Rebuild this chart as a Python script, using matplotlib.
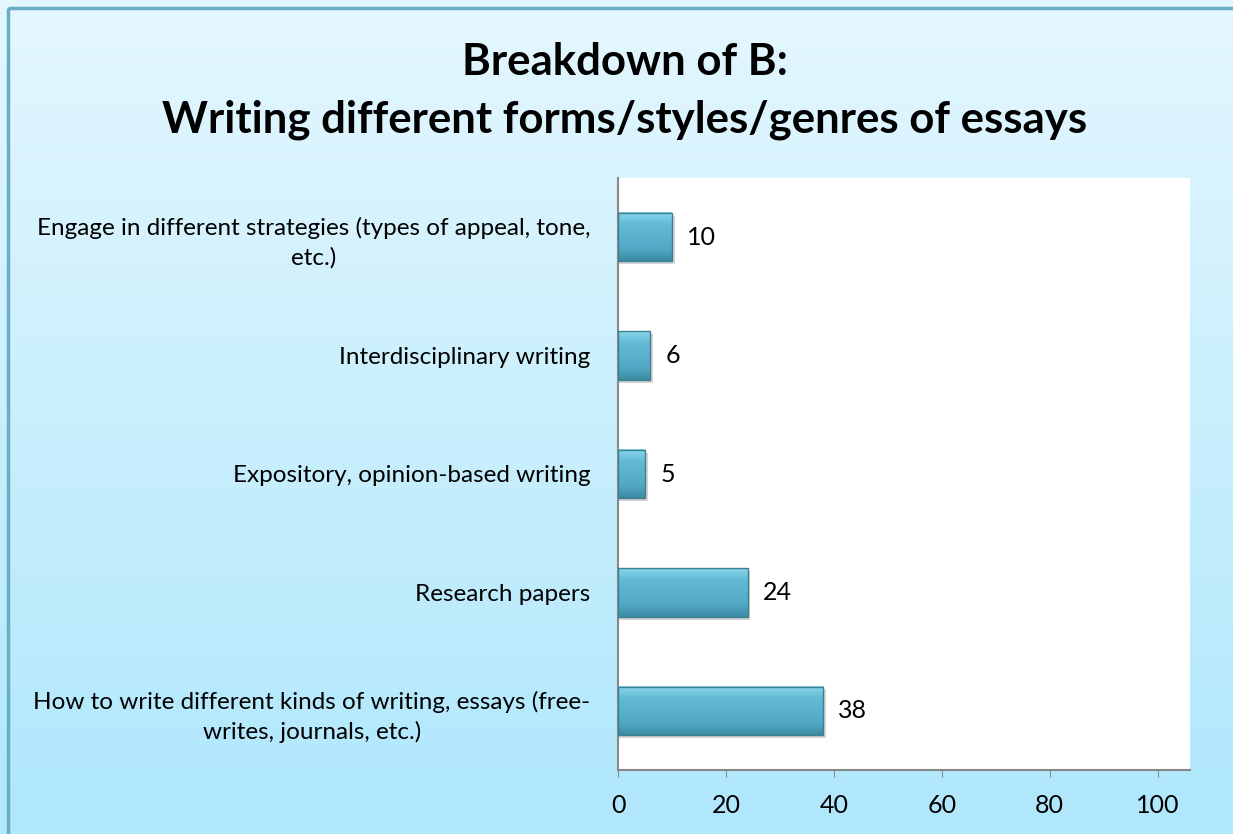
import numpy as np
import matplotlib.pyplot as plt
from matplotlib.patches import Rectangle
from matplotlib.colors import LinearSegmentedColormap

categories = [
    "How to write different kinds of writing, essays (free-\nwrites, journals, etc.)",
    "Research papers",
    "Expository, opinion-based writing",
    "Interdisciplinary writing",
    "Engage in different strategies (types of appeal, tone,\netc.)",
]
values = [38, 24, 5, 6, 10]
xticks = [0, 20, 40, 60, 80, 100]

plt.rcParams['font.family'] = ['Lato', 'DejaVu Sans']

W, H = 1233, 834
fig = plt.figure(figsize=(W / 100, H / 100), dpi=100)

# background gradient panel
bg = fig.add_axes([0, 0, 1, 1], zorder=0)
grad = np.linspace(0, 1, 256).reshape(-1, 1)
bg_cmap = LinearSegmentedColormap.from_list("bg", ["#e4f7fe", "#afe7fc"])
bg.imshow(grad, aspect='auto', cmap=bg_cmap, extent=[0, W, H, 0])
bg.add_patch(Rectangle((8, 8), W, H, fill=False, edgecolor="#6aaec6", lw=2.5))
bg.set_xlim(0, W)
bg.set_ylim(H, 0)
bg.axis('off')

fig.text(625 / W, 1 - 62 / H, "Breakdown of B:", ha='center', va='center',
         fontsize=31.5, fontweight='bold')
fig.text(625 / W, 1 - 120 / H, "Writing different forms/styles/genres of essays",
         ha='center', va='center', fontsize=31.5, fontweight='bold')

ax = fig.add_axes([618 / W, 1 - 770 / H, (1190 - 618) / W, (770 - 178) / H], zorder=1)
ax.set_facecolor('white')
ax.set_xlim(0, 106)
ax.set_ylim(-0.5, len(categories) - 0.5)

bar_cmap = LinearSegmentedColormap.from_list(
    "bar", ["#3b8aa2", "#52a8c4", "#5ab2cd", "#62bad4", "#8ad8ee"])
bar_h = 0.41
for i, v in enumerate(values):
    # soft drop shadow
    ax.barh(i - 0.025, v + 0.5, height=bar_h, color='#7a7a7a', alpha=0.3, lw=0, zorder=1)
    ax.imshow(grad, aspect='auto', cmap=bar_cmap, origin='lower',
              extent=[0, v, i - bar_h / 2, i + bar_h / 2], zorder=2)
    ax.add_patch(Rectangle((0, i - bar_h / 2), v, bar_h, fill=False,
                           edgecolor='#3d7f93', lw=1, zorder=3))
    ax.text(v + 2.8, i, str(v), va='center', ha='left', fontsize=18)

ax.set_yticks(range(len(categories)))
ax.set_yticklabels(categories, fontsize=17.5, multialignment='center', linespacing=1.45)
ax.tick_params(axis='y', length=0, pad=20)
ax.set_xticks(xticks)
ax.tick_params(axis='x', labelsize=18, direction='out', length=5, color='#888888', pad=12)

for s in ['top', 'right']:
    ax.spines[s].set_visible(False)
for s in ['left', 'bottom']:
    ax.spines[s].set_color('#888888')
    ax.spines[s].set_linewidth(1.5)

fig.savefig("out.png", dpi=100)
